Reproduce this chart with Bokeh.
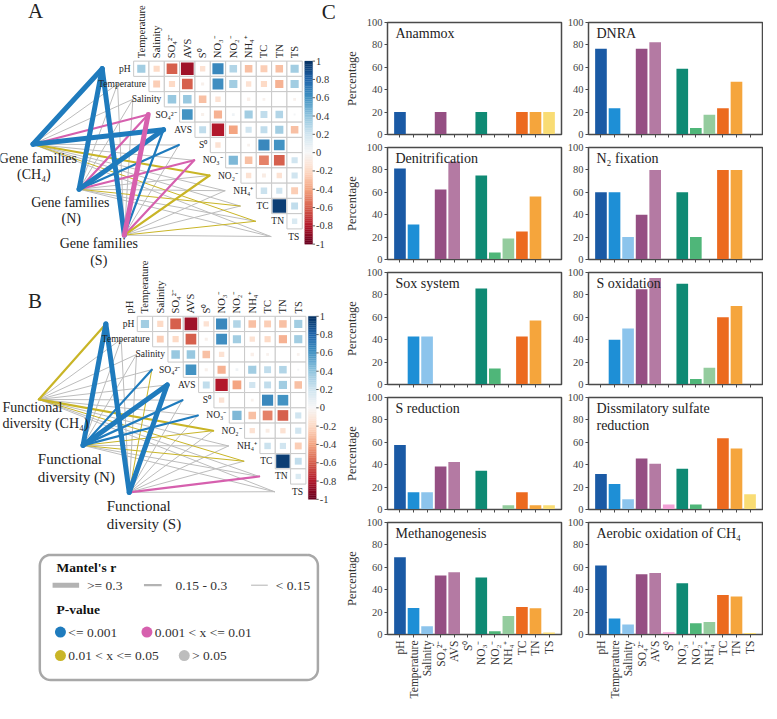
import math
import numpy as np
from bokeh.plotting import figure
from bokeh.layouts import row, column
from bokeh.models import Range1d, FixedTicker, Label, CustomLabelingPolicy
from bokeh.core.properties import value
from bokeh.embed import file_html
from bokeh.resources import INLINE

SERIF = "Liberation Serif"

# ---------------- data ----------------
env_vars = ["pH", "Temperature", "Salinity", "SO₄²⁻", "AVS", "S⁰",
            "NO₃⁻", "NO₂⁻", "NH₄⁺", "TC", "TN", "TS"]

# upper-triangle Pearson correlations (row variable vs. following variables)
corr_pH = [0.35, -0.2, -0.6, -0.85, -0.15, 0.65, 0.3, -0.3, -0.25, -0.3, 0.35]
corr_temp = [-0.25, -0.2, -0.6, -0.05, 0.62, 0.35, -0.15, -0.2, -0.35, 0.35]
corr_sal = [0.38, 0.38, -0.3, -0.15, 0.0, -0.06, -0.04, 0.0, -0.04]
corr_so4 = [0.6, -0.05, -0.35, 0.04, 0.35, 0.25, 0.3, 0.02]
corr_avs = [0.25, -0.8, -0.4, 0.2, 0.25, 0.35, -0.3]
corr_s0 = [-0.15, 0.0, -0.04, 0.65, 0.6, 0.0]
corr_no3 = [0.45, -0.3, -0.5, -0.6, 0.2]
corr_no2 = [-0.15, -0.08, -0.15, 0.2]
corr_nh4 = [0.22, 0.2, -0.25]
corr_tc = [0.95, 0.25]
corr_tn = [0.15]
corr_rows = [corr_pH, corr_temp, corr_sal, corr_so4, corr_avs, corr_s0,
             corr_no3, corr_no2, corr_nh4, corr_tc, corr_tn]

cb_ticks = [1, 0.8, 0.6, 0.4, 0.2, 0, -0.2, -0.4, -0.6, -0.8, -1]

# Mantel tests (r, p) of each group against each environmental variable
gene_ch4_r = [0.45, 0.05, 0.08, 0.2, 0.45, 0.05, 0.1, 0.2, 0.05, 0.05, 0.12, 0.05]
gene_ch4_p = [0.001, 0.5, 0.4, 0.005, 0.001, 0.6, 0.2, 0.03, 0.5, 0.4, 0.04, 0.5]
gene_n_r = [0.45, 0.05, 0.05, 0.2, 0.45, 0.2, 0.2, 0.1, 0.05, 0.12, 0.05, 0.05]
gene_n_p = [0.001, 0.5, 0.3, 0.005, 0.001, 0.001, 0.005, 0.2, 0.5, 0.03, 0.3, 0.5]
gene_s_r = [0.45, 0.05, 0.05, 0.45, 0.2, 0.05, 0.2, 0.2, 0.05, 0.05, 0.12, 0.05]
gene_s_p = [0.001, 0.4, 0.3, 0.005, 0.001, 0.5, 0.005, 0.03, 0.3, 0.2, 0.04, 0.5]

func_ch4_r = [0.2, 0.05, 0.05, 0.05, 0.05, 0.05, 0.05, 0.2, 0.05, 0.12, 0.05, 0.05]
func_ch4_p = [0.02, 0.5, 0.5, 0.4, 0.3, 0.5, 0.3, 0.03, 0.5, 0.04, 0.5, 0.5]
func_n_r = [0.45, 0.05, 0.05, 0.2, 0.45, 0.2, 0.2, 0.12, 0.05, 0.12, 0.05, 0.05]
func_n_p = [0.001, 0.5, 0.4, 0.001, 0.001, 0.001, 0.001, 0.03, 0.5, 0.04, 0.3, 0.5]
func_s_r = [0.45, 0.05, 0.05, 0.12, 0.45, 0.05, 0.05, 0.05, 0.05, 0.05, 0.2, 0.12]
func_s_p = [0.001, 0.5, 0.4, 0.03, 0.001, 0.5, 0.3, 0.2, 0.5, 0.3, 0.005, 0.3]

# panel C: percentage of genes correlated with each variable
bar_titles = ["Anammox", "DNRA", "Denitrification", "N₂ fixation", "Sox system",
              "S oxidation", "S reduction", "Dissmilatory sulfate\nreduction",
              "Methanogenesis", "Aerobic oxidation of CH₄"]
pct_anammox = [20, 0, 0, 20, 0, 0, 20, 0, 0, 20, 20, 20]
pct_dnra = [76.5, 23.5, 0, 76.5, 82.4, 0, 58.8, 5.9, 17.6, 23.5, 47.1, 0]
pct_denitrification = [81.3, 31.3, 0, 62.5, 87.5, 0, 75, 6.3, 18.8, 25, 56.3, 0]
pct_n2_fixation = [60, 60, 20, 40, 80, 0, 60, 20, 0, 80, 80, 0]
pct_sox = [0, 42.9, 42.9, 0, 0, 0, 85.7, 14.3, 0, 42.9, 57.1, 0]
pct_s_oxidation = [0, 40, 50, 85, 95, 0, 90, 5, 15, 60, 70, 0]
pct_s_reduction = [57.7, 15.4, 15.4, 38.5, 42.3, 0, 34.6, 0, 3.8, 15.4, 3.8, 3.8]
pct_dsr = [31.8, 22.7, 9.1, 45.5, 40.9, 4.5, 36.4, 4.5, 0, 63.6, 54.5, 13.6]
pct_methanogenesis = [69, 23.6, 7.3, 52.7, 55.5, 0, 51, 2.9, 16.5, 24.5, 23.5, 1.8]
pct_aerobic_ch4 = [61.5, 14.2, 8.9, 53.8, 54.8, 1.9, 45.8, 10, 11.2, 35.2, 34, 1.4]
pct_ticks = [0, 20, 40, 60, 80, 100]

bar_colors = ["#1a5aa5", "#1e8fd6", "#8cc4ec", "#954f83", "#b47aa3", "#f2a0d6",
              "#0f8a74", "#4fb679", "#94cc9e", "#ec6a1f", "#f5a53c", "#f9dc74"]

# ---------------- helpers ----------------
RDBU = ['#67001f', '#b2182b', '#d6604d', '#f4a582', '#fddbc7', '#f7f7f7',
        '#d1e5f0', '#92c5de', '#4393c3', '#2166ac', '#053061']


def hex2rgb(h):
    return tuple(int(h[i:i + 2], 16) for i in (1, 3, 5))


def rdbu(v):
    t = (max(-1, min(1, v)) + 1) / 2 * (len(RDBU) - 1)
    i = min(int(t), len(RDBU) - 2)
    f = t - i
    a, b = hex2rgb(RDBU[i]), hex2rgb(RDBU[i + 1])
    c = [round(a[k] + (b[k] - a[k]) * f) for k in range(3)]
    return "#%02x%02x%02x" % tuple(c)


P_COLORS = ["#1f7bbd", "#d660ae", "#c9b527", "#bdbdbd"]


def p_color(pv):
    if pv <= 0.001:
        return 0
    if pv <= 0.01:
        return 1
    if pv <= 0.05:
        return 2
    return 3


def r_width(r):
    if r >= 0.3:
        return 5.0
    if r >= 0.15:
        return 2.2
    return 1.0


def txt(p, x, y, s, size, align="left", baseline="middle", angle=0, bold=False, color="#222222"):
    p.text(x=[x], y=[y], text=[s], angle=angle, text_font=value(SERIF),
           text_font_size=value(size), text_align=align, text_baseline=baseline,
           text_color=color, text_font_style="bold" if bold else "normal")


# ---------------- left figure (A, B, legend) ----------------
L = figure(width=340, height=703, x_range=Range1d(0, 346), y_range=Range1d(719, 0),
           output_backend="svg", toolbar_location=None, min_border=0,
           x_axis_location=None, y_axis_location=None)
L.grid.visible = False
L.outline_line_color = None


def draw_panel(p, gx, gy, pitch, header_start, nodes, r_lists, p_lists):
    n = len(env_vars)
    # Mantel edges
    segs = []
    for (nx, ny), rl, pl in zip(nodes, r_lists, p_lists):
        for i, (r, pv) in enumerate(zip(rl, pl)):
            ex = gx - 32 + i * pitch
            ey = gy + (i + 0.5) * pitch
            ci = p_color(pv)
            segs.append((ci != 3, r_width(r), nx, ny, ex, ey, P_COLORS[ci]))
    segs.sort(key=lambda s: (s[0], s[1]))
    p.segment(x0=[s[2] for s in segs], y0=[s[3] for s in segs],
              x1=[s[4] for s in segs], y1=[s[5] for s in segs],
              line_color=[s[6] for s in segs], line_width=[s[1] for s in segs],
              line_cap="round")
    # heatmap
    bx, by, sx, sy, ss, sc = [], [], [], [], [], []
    for i, rvals in enumerate(corr_rows):
        for k, r in enumerate(rvals):
            j = i + k
            cx = gx + (j + 0.5) * pitch
            cy = gy + (i + 0.5) * pitch
            bx.append(cx)
            by.append(cy)
            if abs(r) > 0.005:
                sx.append(cx)
                sy.append(cy)
                ss.append(0.9 * pitch * math.sqrt(abs(r)))
                sc.append(rdbu(r))
    p.rect(bx, by, width=pitch, height=pitch, fill_color="white",
           line_color="#c9c9c9", line_width=1)
    p.rect(sx, sy, width=ss, height=ss, fill_color=sc, line_color=None)
    # headers
    for v in range(header_start, n):
        col = v - 1
        txt(p, gx + (col + 0.5) * pitch, gy - 3, env_vars[v], "10.5px",
            align="left", baseline="middle", angle=math.pi / 2)
    # row labels
    for i in range(n):
        txt(p, gx + i * pitch - 3, gy + (i + 0.5) * pitch, env_vars[i], "9.5px",
            align="right", baseline="middle")
    # colour bar
    H = 12 * pitch
    cbx0 = gx + 11 * pitch + 2.5
    cbx1 = cbx0 + 8
    vs = np.linspace(1, -1, 101)
    tops = [gy + (1 - a) / 2 * H for a in vs[:-1]]
    bots = [gy + (1 - b) / 2 * H for b in vs[1:]]
    cols = [rdbu((a + b) / 2) for a, b in zip(vs[:-1], vs[1:])]
    p.quad(left=cbx0, right=cbx1, top=tops, bottom=bots, fill_color=cols, line_color=cols, line_width=0.3)
    ty = [gy + (1 - t) / 2 * H for t in cb_ticks]
    p.segment(x0=[cbx1] * len(ty), y0=ty, x1=[cbx1 + 2.5] * len(ty), y1=ty,
              line_color="#333333", line_width=0.8)
    p.text(x=[cbx1 + 3.5] * len(ty), y=ty, text=["%g" % t for t in cb_ticks],
           text_font=value(SERIF), text_font_size=value("10.5px"), text_align="left",
           text_baseline="middle", text_color="#333333")


draw_panel(L, 135.5, 62, 15.6, 1,
           [(33, 147), (80, 193), (126, 240)],
           [gene_ch4_r, gene_n_r, gene_s_r], [gene_ch4_p, gene_n_p, gene_s_p])
draw_panel(L, 139.2, 323, 15.6, 0,
           [(39, 408), (84, 455), (131, 503)],
           [func_ch4_r, func_n_r, func_s_r], [func_ch4_p, func_n_p, func_s_p])

# group labels
txt(L, 38, 162, "Gene families", "14px", align="center")
txt(L, 34, 178, "(CH₄)", "14px", align="center")
txt(L, 71, 207, "Gene families", "14px", align="center")
txt(L, 72, 223, "(N)", "14px", align="center")
txt(L, 100, 249, "Gene families", "14px", align="center")
txt(L, 100, 266, "(S)", "14px", align="center")

txt(L, 2, 416, "Functional", "14px")
txt(L, 2, 433, "diversity (CH₄)", "14px")
txt(L, 38, 469, "Functional", "15px")
txt(L, 38, 487, "diversity (N)", "15px")
txt(L, 108, 517, "Functional", "15px")
txt(L, 108, 535, "diversity (S)", "15px")

# panel letters
txt(L, 28, 11, "A", "21px")
txt(L, 28, 307, "B", "21px")
txt(L, 327, 12, "C", "21px")

# legend box
def rounded_rect(x0, y0, x1, y1, r, n=10):
    xs, ys = [], []
    for cx, cy, a0, a1 in [(x1 - r, y0 + r, -90, 0), (x1 - r, y1 - r, 0, 90),
                           (x0 + r, y1 - r, 90, 180), (x0 + r, y0 + r, 180, 270)]:
        for a in np.linspace(math.radians(a0), math.radians(a1), n):
            xs.append(cx + r * math.cos(a))
            ys.append(cy + r * math.sin(a))
    xs.append(xs[0])
    ys.append(ys[0])
    return xs, ys


rx, ry = rounded_rect(40, 567, 323, 695, 11)
L.line(rx, ry, line_color="#a8a8a8", line_width=2.5)
txt(L, 57, 580, "Mantel's r", "13.5px", bold=True, color="#111111")
legend_w = [5.0, 2.2, 1.0]
legend_wx = [(53, 80), (146, 164), (255, 272)]
legend_wt = [">= 0.3", "0.15 - 0.3", "< 0.15"]
legend_wtx = [88, 178, 280]
L.segment(x0=[a for a, b in legend_wx], y0=[598] * 3, x1=[b for a, b in legend_wx], y1=[598] * 3,
          line_color="#b3b3b3", line_width=legend_w)
for t, x in zip(legend_wt, legend_wtx):
    txt(L, x, 598, t, "13.5px", color="#333333")
txt(L, 57, 623, "P-value", "13.5px", bold=True, color="#111111")
legend_pt = ["<= 0.001", "0.001 < x <= 0.01", "0.01 < x <= 0.05", "> 0.05"]
legend_px = [61, 149, 61, 187]
legend_py = [646, 646, 670, 670]
L.scatter(x=legend_px, y=legend_py, size=11, fill_color=P_COLORS, line_color=None)
for t, x, y in zip(legend_pt, legend_px, legend_py):
    txt(L, x + 8, y, t, "13.5px", color="#333333")

# ---------------- panel C ----------------
bar_series = [pct_anammox, pct_dnra, pct_denitrification, pct_n2_fixation, pct_sox,
              pct_s_oxidation, pct_s_reduction, pct_dsr, pct_methanogenesis, pct_aerobic_ch4]

HIDE_LABELS = "for (const i of indices) { indices.unset(i) }\nreturn indices"

figs = []
for k, (ttl, vals) in enumerate(zip(bar_titles, bar_series)):
    rr, cc = divmod(k, 2)
    top, bottom, left = rr == 0, rr == 4, cc == 0
    f = figure(frame_width=174, frame_height=112,
               x_range=Range1d(-0.92, 11.92), y_range=Range1d(0, 100),
               output_backend="svg", toolbar_location=None,
               min_border_left=47 if left else 22, min_border_right=3 if left else 1,
               min_border_top=22 if top else 6, min_border_bottom=73 if bottom else 6)
    idx = [i for i, v in enumerate(vals) if v > 0]
    f.vbar(x=idx, top=[vals[i] for i in idx], width=0.86, bottom=0,
           fill_color=[bar_colors[i] for i in idx], line_color=None)
    f.grid.visible = False
    f.outline_line_color = "#4a4a4a"
    f.outline_line_width = 1.5
    ya = f.yaxis[0]
    ya.ticker = FixedTicker(ticks=pct_ticks)
    ya.minor_tick_line_color = None
    ya.major_tick_in = 0
    ya.major_tick_out = 3
    ya.major_label_standoff = 2
    ya.axis_line_color = "#4a4a4a"
    ya.major_tick_line_color = "#4a4a4a"
    ya.major_label_text_font = SERIF
    ya.major_label_text_font_size = "10.5px"
    ya.major_label_text_color = "#444444"
    if left:
        ya.axis_label = "Percentage"
        ya.axis_label_text_font = SERIF
        ya.axis_label_text_font_style = "normal"
        ya.axis_label_text_font_size = "12.5px"
        ya.axis_label_text_color = "#333333"
        ya.axis_label_standoff = 5
    xa = f.xaxis[0]
    xa.ticker = FixedTicker(ticks=list(range(len(env_vars))))
    xa.major_label_overrides = {i: v for i, v in enumerate(env_vars)}
    xa.minor_tick_line_color = None
    xa.major_tick_in = 0
    xa.major_tick_out = 3
    xa.axis_line_color = "#4a4a4a"
    xa.major_tick_line_color = "#4a4a4a"
    xa.major_label_text_font = SERIF
    xa.major_label_text_color = "#333333"
    if bottom:
        xa.major_label_orientation = math.pi / 2
        xa.major_label_text_font_size = "11.5px"
        xa.major_label_standoff = 3
    else:
        xa.major_label_text_font_size = "1px"
        xa.major_label_standoff = 0
        xa.major_label_policy = CustomLabelingPolicy(code=HIDE_LABELS)
    for li, line in enumerate(ttl.split("\n")):
        f.add_layout(Label(x=-0.33, y=97 - li * 15.5, text=line, text_baseline="top",
                           text_align="left", text_font=SERIF, text_font_size="14px",
                           text_color="#222222"))
    figs.append(f)

right = column(*[row(figs[2 * i], figs[2 * i + 1]) for i in range(5)])
layout = row(L, right)

open("out.html", "w").write(file_html(layout, INLINE))
